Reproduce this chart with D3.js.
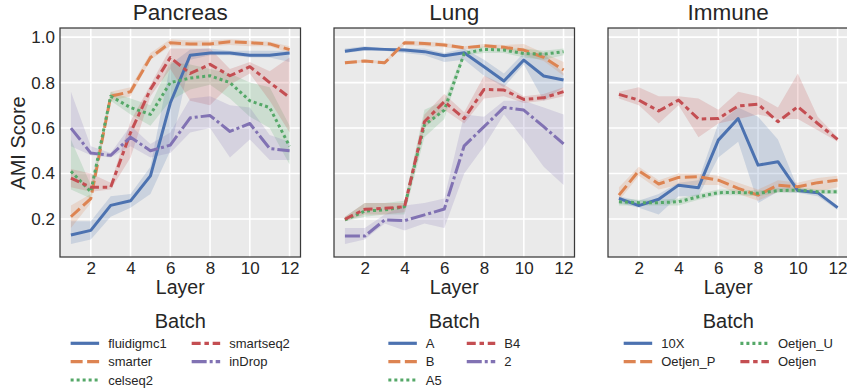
<!DOCTYPE html>
<html>
<head>
<meta charset="utf-8">
<script src="https://cdnjs.cloudflare.com/ajax/libs/d3/7.8.5/d3.min.js"></script>
<style>
    body { margin: 0; background: #fff; }
    svg { display: block; font-family: "Liberation Sans", Arial, sans-serif; }
</style>
</head>
<body>
<svg id="chart" width="847" height="390"></svg>
<script>
// x values shared by every series
const layers = [1, 2, 3, 4, 5, 6, 7, 8, 9, 10, 11, 12];
const xTicks = [2, 4, 6, 8, 10, 12];
const yTicks = [0.2, 0.4, 0.6, 0.8, 1.0];

const titles = ['Pancreas', 'Lung', 'Immune'];

// Pancreas
const pancreasBatches = ['fluidigmc1', 'smarter', 'celseq2', 'smartseq2', 'inDrop'];
const pancreasMean = [
    [0.13, 0.15, 0.26, 0.28, 0.39, 0.71, 0.92, 0.93, 0.93, 0.92, 0.92, 0.93],
    [0.21, 0.29, 0.74, 0.76, 0.91, 0.975, 0.97, 0.97, 0.98, 0.975, 0.97, 0.945],
    [0.41, 0.32, 0.74, 0.69, 0.66, 0.80, 0.82, 0.83, 0.80, 0.72, 0.69, 0.52],
    [0.38, 0.34, 0.34, 0.58, 0.77, 0.91, 0.84, 0.88, 0.83, 0.87, 0.80, 0.735],
    [0.60, 0.49, 0.48, 0.56, 0.50, 0.525, 0.645, 0.655, 0.585, 0.62, 0.51, 0.50]
];
const pancreasLow = [
    [0.09, 0.11, 0.21, 0.25, 0.31, 0.50, 0.90, 0.92, 0.92, 0.91, 0.91, 0.89],
    [0.16, 0.27, 0.72, 0.74, 0.90, 0.96, 0.96, 0.96, 0.965, 0.96, 0.96, 0.93],
    [0.33, 0.29, 0.72, 0.66, 0.61, 0.72, 0.77, 0.79, 0.73, 0.65, 0.60, 0.44],
    [0.34, 0.32, 0.33, 0.47, 0.74, 0.86, 0.72, 0.70, 0.79, 0.84, 0.72, 0.58],
    [0.52, 0.48, 0.47, 0.52, 0.47, 0.49, 0.58, 0.60, 0.47, 0.55, 0.46, 0.46]
];
const pancreasHigh = [
    [0.19, 0.19, 0.30, 0.31, 0.43, 0.88, 0.945, 0.95, 0.94, 0.94, 0.94, 0.94],
    [0.26, 0.31, 0.76, 0.78, 0.93, 0.99, 0.985, 0.985, 0.99, 0.985, 0.98, 0.96],
    [0.55, 0.35, 0.76, 0.73, 0.70, 0.89, 0.88, 0.86, 0.84, 0.80, 0.78, 0.61],
    [0.42, 0.40, 0.36, 0.63, 0.79, 0.95, 0.95, 0.95, 0.86, 0.89, 0.85, 0.91],
    [0.76, 0.52, 0.49, 0.61, 0.53, 0.58, 0.73, 0.74, 0.70, 0.69, 0.57, 0.54]
];

// Lung
const lungBatches = ['A', 'B', 'A5', 'B4', '2'];
const lungMean = [
    [0.938, 0.95, 0.946, 0.943, 0.936, 0.918, 0.931, 0.87, 0.807, 0.899, 0.829, 0.811],
    [0.887, 0.895, 0.887, 0.975, 0.972, 0.965, 0.953, 0.962, 0.955, 0.943, 0.911, 0.855],
    [0.196, 0.235, 0.24, 0.254, 0.613, 0.679, 0.928, 0.946, 0.943, 0.928, 0.925, 0.936],
    [0.199, 0.243, 0.247, 0.254, 0.628, 0.716, 0.642, 0.77, 0.767, 0.726, 0.733, 0.76],
    [0.125, 0.125, 0.196, 0.193, 0.218, 0.244, 0.522, 0.606, 0.691, 0.679, 0.606, 0.53]
];
const lungLow = [
    [0.93, 0.94, 0.94, 0.93, 0.92, 0.89, 0.90, 0.83, 0.78, 0.88, 0.72, 0.78],
    [0.88, 0.89, 0.88, 0.965, 0.96, 0.955, 0.945, 0.955, 0.945, 0.92, 0.895, 0.83],
    [0.19, 0.21, 0.22, 0.22, 0.56, 0.64, 0.92, 0.93, 0.93, 0.91, 0.90, 0.92],
    [0.19, 0.22, 0.22, 0.23, 0.60, 0.68, 0.62, 0.73, 0.74, 0.71, 0.72, 0.74],
    [0.09, 0.11, 0.18, 0.15, 0.18, 0.16, 0.40, 0.52, 0.66, 0.55, 0.43, 0.35]
];
const lungHigh = [
    [0.95, 0.96, 0.95, 0.95, 0.95, 0.93, 0.95, 0.90, 0.84, 0.93, 0.93, 0.84],
    [0.895, 0.90, 0.895, 0.985, 0.98, 0.975, 0.96, 0.97, 0.965, 0.97, 0.93, 0.89],
    [0.21, 0.27, 0.27, 0.28, 0.68, 0.72, 0.94, 0.96, 0.95, 0.95, 0.94, 0.95],
    [0.21, 0.27, 0.27, 0.27, 0.66, 0.75, 0.67, 0.83, 0.79, 0.74, 0.75, 0.78],
    [0.16, 0.16, 0.22, 0.26, 0.27, 0.29, 0.66, 0.65, 0.72, 0.72, 0.69, 0.66]
];

// Immune
const immuneBatches = ['10X', 'Oetjen_P', 'Oetjen_U', 'Oetjen'];
const immuneMean = [
    [0.291, 0.259, 0.287, 0.349, 0.338, 0.547, 0.642, 0.437, 0.452, 0.325, 0.316, 0.25],
    [0.305, 0.412, 0.354, 0.383, 0.386, 0.371, 0.335, 0.305, 0.349, 0.342, 0.36, 0.371],
    [0.276, 0.272, 0.272, 0.276, 0.298, 0.316, 0.317, 0.313, 0.325, 0.327, 0.32, 0.32],
    [0.748, 0.723, 0.675, 0.723, 0.64, 0.642, 0.697, 0.705, 0.628, 0.694, 0.62, 0.55]
];
const immuneLow = [
    [0.27, 0.25, 0.22, 0.30, 0.30, 0.47, 0.54, 0.27, 0.32, 0.315, 0.30, 0.24],
    [0.28, 0.39, 0.33, 0.35, 0.35, 0.35, 0.31, 0.28, 0.32, 0.32, 0.32, 0.34],
    [0.26, 0.26, 0.26, 0.26, 0.285, 0.305, 0.305, 0.30, 0.315, 0.315, 0.31, 0.31],
    [0.73, 0.70, 0.62, 0.70, 0.56, 0.62, 0.64, 0.66, 0.64, 0.64, 0.59, 0.54]
];
const immuneHigh = [
    [0.30, 0.28, 0.31, 0.36, 0.37, 0.62, 0.69, 0.65, 0.55, 0.335, 0.32, 0.26],
    [0.34, 0.43, 0.37, 0.40, 0.40, 0.39, 0.36, 0.33, 0.37, 0.36, 0.38, 0.39],
    [0.29, 0.285, 0.285, 0.29, 0.31, 0.33, 0.33, 0.325, 0.335, 0.34, 0.33, 0.33],
    [0.76, 0.78, 0.74, 0.74, 0.73, 0.68, 0.76, 0.74, 0.69, 0.84, 0.65, 0.56]
];

const colors = ['#4C72B0', '#DD8452', '#55A868', '#C44E52', '#8172B3'];
const dashes = [null, '12,4.5', '3,3', '9,3.75,4.5,3.75', '15,3,3,3'];

const panels = [
    { title: titles[0], batches: pancreasBatches, mean: pancreasMean, low: pancreasLow, high: pancreasHigh },
    { title: titles[1], batches: lungBatches, mean: lungMean, low: lungLow, high: lungHigh },
    { title: titles[2], batches: immuneBatches, mean: immuneMean, low: immuneLow, high: immuneHigh }
];

const svg = d3.select('#chart');
const textColor = '#262626';
const plotTop = 28, plotBottom = 257, panelWidth = 240.5;
const panelLeft = [60, 334, 608];

const y = d3.scaleLinear().domain([0.033, 1.04]).range([plotBottom, plotTop]);

/**
 * Draws one subplot with its bands, lines, axes and legend
 * @param {object} panel
 * @param {number} left - x position of the left spine
 */
function drawPanel(panel, left) {
    const x = d3.scaleLinear().domain([0.45, 12.55]).range([left, left + panelWidth]);
    const center = left + panelWidth / 2;
    const g = svg.append('g');

    g.append('rect')
        .attr('x', left).attr('y', plotTop)
        .attr('width', panelWidth).attr('height', plotBottom - plotTop)
        .attr('fill', '#EAEAEA');

    // grid
    g.append('g').selectAll('line').data(xTicks).enter().append('line')
        .attr('x1', d => x(d)).attr('x2', d => x(d))
        .attr('y1', plotTop).attr('y2', plotBottom)
        .attr('stroke', '#fff').attr('stroke-width', 1.6);
    g.append('g').selectAll('line').data(yTicks).enter().append('line')
        .attr('x1', left).attr('x2', left + panelWidth)
        .attr('y1', d => y(d)).attr('y2', d => y(d))
        .attr('stroke', '#fff').attr('stroke-width', 1.6);

    const area = d3.area()
        .x(d => x(d.layer))
        .y0(d => y(d.low))
        .y1(d => y(d.high));
    const line = d3.line()
        .x(d => x(d.layer))
        .y(d => y(d.mean));

    const series = panel.batches.map((name, i) => ({
        name: name,
        color: colors[i],
        dash: dashes[i],
        points: layers.map((layer, j) => ({
            layer: layer,
            mean: panel.mean[i][j],
            low: panel.low[i][j],
            high: panel.high[i][j]
        }))
    }));

    g.append('g').selectAll('path').data(series).enter().append('path')
        .attr('d', d => area(d.points))
        .attr('fill', d => d.color)
        .attr('fill-opacity', 0.2);

    g.append('g').selectAll('path').data(series).enter().append('path')
        .attr('d', d => line(d.points))
        .attr('fill', 'none')
        .attr('stroke', d => d.color)
        .attr('stroke-width', 3)
        .attr('stroke-linejoin', 'round')
        .attr('stroke-dasharray', d => d.dash);

    // spines
    g.append('rect')
        .attr('x', left).attr('y', plotTop)
        .attr('width', panelWidth).attr('height', plotBottom - plotTop)
        .attr('fill', 'none')
        .attr('stroke', '#3a3a3a')
        .attr('stroke-width', 1.25);

    // x axis
    const xAxis = g.append('g')
        .attr('transform', `translate(0,${plotBottom})`)
        .call(d3.axisBottom(x).tickValues(xTicks).tickSize(0).tickPadding(5));
    xAxis.select('.domain').remove();
    xAxis.selectAll('text')
        .attr('fill', textColor)
        .style('font-size', '17px')
        .style('font-family', '"Liberation Sans", Arial, sans-serif');

    g.append('text')
        .attr('x', center).attr('y', 294)
        .attr('text-anchor', 'middle')
        .attr('fill', textColor)
        .style('font-size', '19.5px')
        .text('Layer');

    g.append('text')
        .attr('x', center).attr('y', 20)
        .attr('text-anchor', 'middle')
        .attr('fill', textColor)
        .style('font-size', '22.5px')
        .text(panel.title);

    drawLegend(g, series, center);
}

/**
 * Draws the two column legend under a subplot
 */
function drawLegend(g, series, center) {
    const handle = 28.5, pad = 9, spacing = 25, rowStep = 18.35, firstRow = 343.3;
    const perColumn = Math.ceil(series.length / 2);
    const columns = [series.slice(0, perColumn), series.slice(perColumn)];

    g.append('text')
        .attr('x', center).attr('y', 328)
        .attr('text-anchor', 'middle')
        .attr('fill', textColor)
        .style('font-size', '20px')
        .text('Batch');

    const legend = g.append('g');
    const widths = columns.map(col => {
        let w = 0;
        col.forEach(s => {
            const t = legend.append('text').style('font-size', '13px').text(s.name);
            w = Math.max(w, t.node().getComputedTextLength());
            t.remove();
        });
        return handle + pad + w;
    });
    let x0 = center - (widths[0] + spacing + widths[1]) / 2;

    columns.forEach((col, c) => {
        col.forEach((s, r) => {
            const cy = firstRow + r * rowStep;
            legend.append('line')
                .attr('x1', x0).attr('x2', x0 + handle)
                .attr('y1', cy).attr('y2', cy)
                .attr('stroke', s.color)
                .attr('stroke-width', 3.2)
                .attr('stroke-dasharray', s.dash);
            legend.append('text')
                .attr('x', x0 + handle + pad).attr('y', cy + 4.7)
                .attr('fill', textColor)
                .style('font-size', '13px')
                .text(s.name);
        });
        x0 += widths[c] + spacing;
    });
}

panels.forEach((panel, i) => drawPanel(panel, panelLeft[i]));

// y axis only on the first subplot
const yAxis = svg.append('g')
    .attr('transform', `translate(${panelLeft[0]},0)`)
    .call(d3.axisLeft(y).tickValues(yTicks).tickSize(0).tickPadding(5).tickFormat(d3.format('.1f')));
yAxis.select('.domain').remove();
yAxis.selectAll('text')
    .attr('fill', textColor)
    .style('font-size', '17px')
    .style('font-family', '"Liberation Sans", Arial, sans-serif');

svg.append('text')
    .attr('transform', 'translate(25,143) rotate(-90)')
    .attr('text-anchor', 'middle')
    .attr('fill', textColor)
    .style('font-size', '20px')
    .text('AMI Score');
</script>
</body>
</html>
